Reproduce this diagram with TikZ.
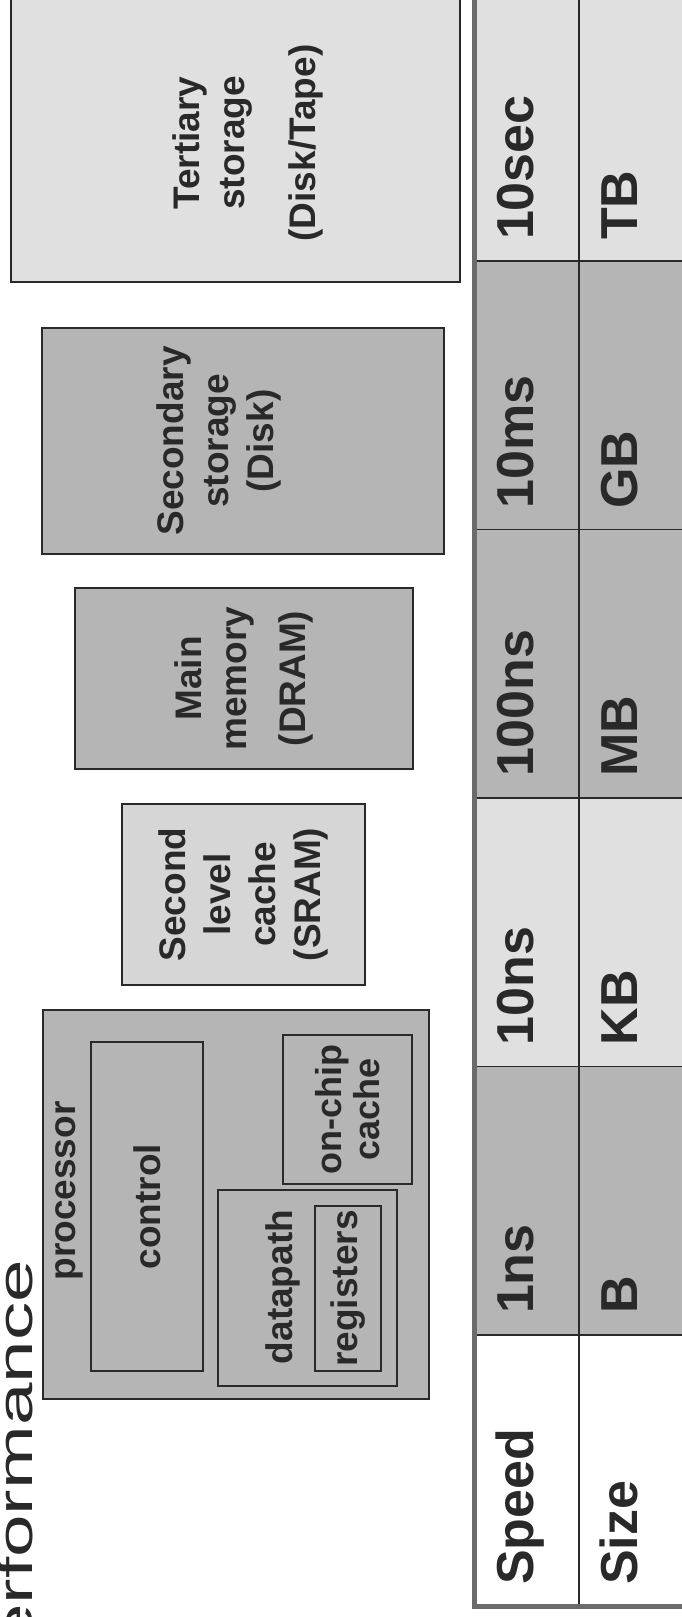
\documentclass[tikz,border=0pt]{standalone}
\usepackage{fontspec}
\usepackage{xcolor}
\setmainfont{Liberation Sans}

\definecolor{inkgray}{gray}{0.16}
\definecolor{darkfill}{gray}{0.71}
\definecolor{lightfill}{gray}{0.84}
\definecolor{palefill}{gray}{0.88}
\definecolor{framegray}{gray}{0.42}

\newcommand{\boxfont}{\fontsize{37}{45}\selectfont\bfseries}
\newcommand{\tightfont}{\fontsize{36}{38}\selectfont\bfseries}
\newcommand{\cellfont}{\fontsize{52}{60}\selectfont\bfseries}
\newcommand{\titlefont}{\fontsize{49}{56}\selectfont}

\begin{document}
\begin{tikzpicture}[
  x=1pt, y=1pt, rotate=90, transform shape,
  unit/.style={rectangle,draw=inkgray,line width=1.8pt,text=inkgray,font=\boxfont,align=center,inner sep=0pt},
  darkunit/.style={unit,fill=darkfill},
  lightunit/.style={unit,fill=lightfill},
  tag/.style={text=inkgray,font=\boxfont,align=center,inner sep=0pt},
  cell/.style={rectangle,draw=inkgray,line width=1.5pt,text=inkgray,font=\cellfont,minimum height=104pt,inner xsep=21pt,inner ysep=0pt,text width=226.5pt,align=left,text height=38pt,text depth=25pt},
  hcell/.style={cell,fill=white,text width=229pt},
  darkcell/.style={cell,fill=darkfill},
  lightcell/.style={cell,fill=palefill}
]
  \useasboundingbox (0,0) rectangle (1617,682);
  \clip (0,0) rectangle (1617,682);

  \node[text=inkgray,font=\titlefont,anchor=base east,inner sep=0pt] (title) at (357,649) {\scalebox{1.56}[1]{Performance}};

  % processor and its parts
  \node[darkunit,minimum width=389pt,minimum height=386pt] (proc) at (412.5,446) {};
  \node[tag] (proclbl) at (426,613) {processor};
  \node[darkunit,minimum width=329pt,minimum height=112pt] (ctrl) at (410.5,535) {control};
  \node[darkunit,minimum width=196pt,minimum height=179pt] (dpath) at (329,374.5) {};
  \node[tag] (dpathlbl) at (330,399) {datapath};
  \node[darkunit,minimum width=165pt,minimum height=66pt] (regs) at (328.5,334) {registers};
  \node[darkunit,font=\tightfont,minimum width=149pt,minimum height=129pt] (cache1) at (507.5,334.5) {on-chip\\cache};

  % memory levels
  \node[lightunit,minimum width=181pt,minimum height=243pt] (cache2) at (722.5,438.5) {Second\\level\\cache\\(SRAM)};
  \node[darkunit,minimum width=181pt,minimum height=338pt] (dram) at (938.5,438) {Main\\memory\\[14pt](DRAM)};
  \node[darkunit,minimum width=226pt,minimum height=402pt] (disk) at (1176,439) {};
  \node[tag] (disklbl) at (1176,463) {Secondary\\storage\\(Disk)};
  \node[lightunit,fill=palefill,minimum width=365pt,minimum height=449pt] (tape) at (1517.5,446.5) {};
  \node[tag] (tapelbl) at (1474,434) {Tertiary\\storage\\[26pt](Disk/Tape)};

  % table
  \node[hcell] (speed) at (146.5,155) {Speed};
  \node[hcell] (size) at (146.5,51) {Size};
  \node[darkcell] (t1) at (416.25,155) {1ns};
  \node[darkcell] (s1) at (416.25,51) {B};
  \node[lightcell] (t2) at (684.75,155) {10ns};
  \node[lightcell] (s2) at (684.75,51) {KB};
  \node[darkcell] (t3) at (953.25,155) {100ns};
  \node[darkcell] (s3) at (953.25,51) {MB};
  \node[darkcell] (t4) at (1221.75,155) {10ms};
  \node[darkcell] (s4) at (1221.75,51) {GB};
  \node[lightcell] (t5) at (1490.25,155) {10sec};
  \node[lightcell] (s5) at (1490.25,51) {TB};
  \draw[framegray,line width=5pt] (t5.north east) -- (speed.north west) -- (size.south west);
\end{tikzpicture}
\end{document}
